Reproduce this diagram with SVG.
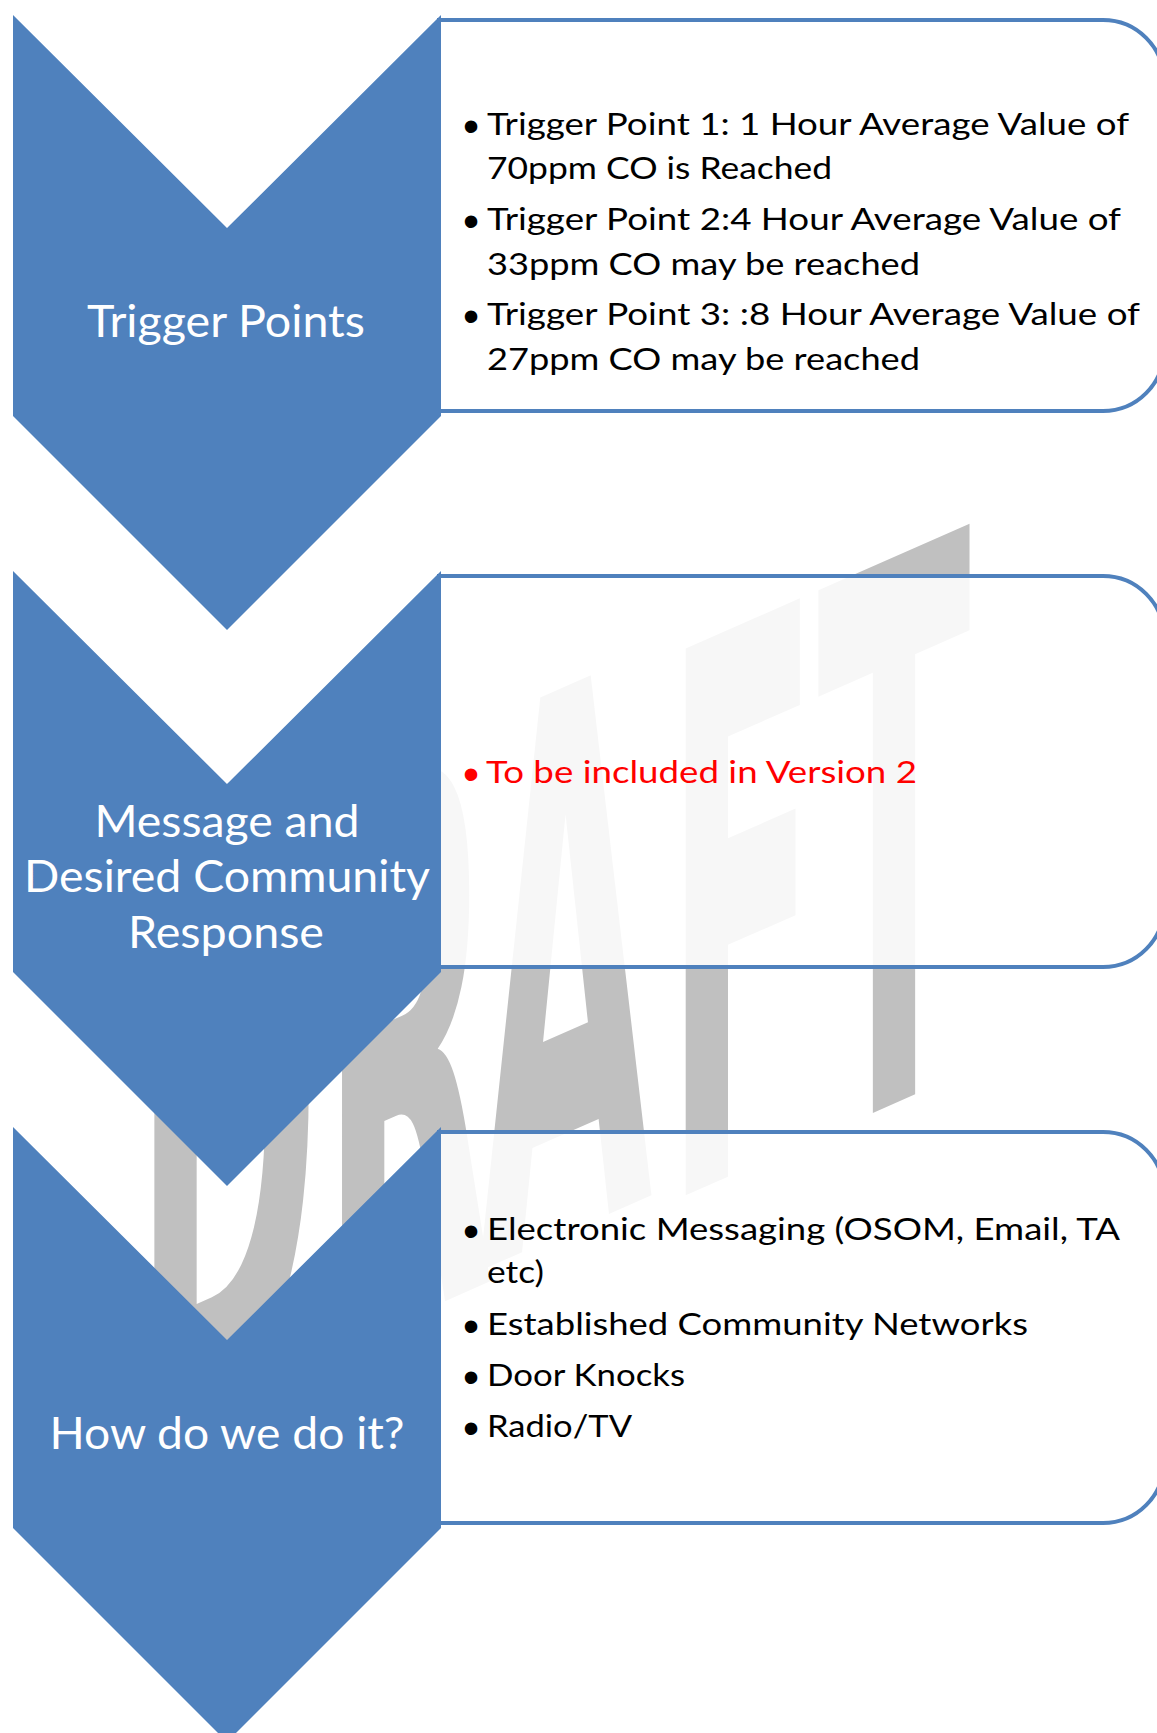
<svg xmlns="http://www.w3.org/2000/svg" width="1157" height="1733" viewBox="0 0 1157 1733">
<style>
.chev{fill:#4f81bd}
.box{fill:#ffffff;fill-opacity:0.87;stroke:#4f81bd;stroke-width:4}
.lbl{font-family:Lato,"Open Sans","DejaVu Sans",sans-serif;font-size:45px;fill:#ffffff;text-anchor:middle}
.txt{font-family:Lato,"Open Sans","DejaVu Sans",sans-serif;font-size:31px;fill:#000000}
.red{fill:#ff0000}
.bul{font-family:"Liberation Sans",Arial,sans-serif;font-size:46px;text-anchor:middle}
.wm{font-family:"DejaVu Sans",sans-serif;font-weight:bold;font-size:750px;fill:#c0c0c0;text-anchor:middle}
</style>
<rect width="1157" height="1733" fill="#ffffff"/>
<g id="watermark" transform="matrix(0.3,-0.132,0,1,0,1497)">
<text class="wm" x="757" y="0">D</text>
<text class="wm" x="1360" y="0">R</text>
<text class="wm" x="1885" y="-15">A</text>
<text class="wm" x="2473" y="0">F</text>
<text class="wm" x="2980" y="0">T</text>
</g>
<g id="node1">
<path class="box" d="M439,20 H1103 A61,61 0 0 1 1164,81 V350 A61,61 0 0 1 1103,411 H439 Z"/>
<polygon class="chev" points="13,15 227,228 441,15 441,416 227,630 13,416"/>
<text class="lbl" x="226" y="337" textLength="278" lengthAdjust="spacingAndGlyphs">Trigger Points</text>
<text class="bul" x="471" y="142">•</text>
<text class="txt" x="487" y="135" textLength="642" lengthAdjust="spacingAndGlyphs">Trigger Point 1: 1 Hour Average Value of</text>
<text class="txt" x="487" y="179" textLength="345" lengthAdjust="spacingAndGlyphs">70ppm CO is Reached</text>
<text class="bul" x="471" y="237">•</text>
<text class="txt" x="487" y="230" textLength="634" lengthAdjust="spacingAndGlyphs">Trigger Point 2:4 Hour Average Value of</text>
<text class="txt" x="487" y="275" textLength="433" lengthAdjust="spacingAndGlyphs">33ppm CO may be reached</text>
<text class="bul" x="471" y="332">•</text>
<text class="txt" x="487" y="325" textLength="653" lengthAdjust="spacingAndGlyphs">Trigger Point 3: :8 Hour Average Value of</text>
<text class="txt" x="487" y="370" textLength="433" lengthAdjust="spacingAndGlyphs">27ppm CO may be reached</text>
</g>
<g id="node2">
<path class="box" d="M439,576 H1103 A61,61 0 0 1 1164,637 V906 A61,61 0 0 1 1103,967 H439 Z"/>
<polygon class="chev" points="13,571 227,784 441,571 441,972 227,1186 13,972"/>
<text class="lbl" x="227" y="837" textLength="265" lengthAdjust="spacingAndGlyphs">Message and</text>
<text class="lbl" x="227" y="892" textLength="406" lengthAdjust="spacingAndGlyphs">Desired Community</text>
<text class="lbl" x="226" y="948" textLength="196" lengthAdjust="spacingAndGlyphs">Response</text>
<text class="bul red" x="471" y="790">•</text>
<text class="txt red" x="486" y="783" textLength="431" lengthAdjust="spacingAndGlyphs">To be included in Version 2</text>
</g>
<g id="node3">
<path class="box" d="M439,1132 H1103 A61,61 0 0 1 1164,1193 V1462 A61,61 0 0 1 1103,1523 H439 Z"/>
<polygon class="chev" points="13,1127 227,1340 441,1127 441,1528 227,1742 13,1528"/>
<text class="lbl" x="227" y="1449" textLength="355" lengthAdjust="spacingAndGlyphs">How do we do it?</text>
<text class="bul" x="471" y="1247">•</text>
<text class="txt" x="487" y="1240" textLength="633" lengthAdjust="spacingAndGlyphs">Electronic Messaging (OSOM, Email, TA</text>
<text class="txt" x="487" y="1283" textLength="57" lengthAdjust="spacingAndGlyphs">etc)</text>
<text class="bul" x="471" y="1342">•</text>
<text class="txt" x="487" y="1335" textLength="541" lengthAdjust="spacingAndGlyphs">Established Community Networks</text>
<text class="bul" x="471" y="1393">•</text>
<text class="txt" x="487" y="1386" textLength="198" lengthAdjust="spacingAndGlyphs">Door Knocks</text>
<text class="bul" x="471" y="1444">•</text>
<text class="txt" x="487" y="1437" textLength="145" lengthAdjust="spacingAndGlyphs">Radio/TV</text>
</g>
</svg>
